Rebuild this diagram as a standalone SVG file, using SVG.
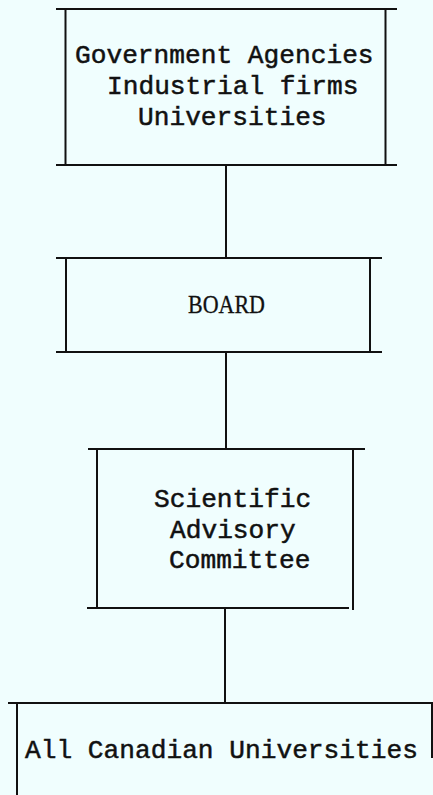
<svg xmlns="http://www.w3.org/2000/svg" width="433" height="795" viewBox="0 0 433 795">
<style>
.ln{stroke:#111;stroke-width:2;fill:none;stroke-linecap:square}
.mono{font-family:"Liberation Mono","Courier New",monospace;font-size:26.2px;fill:#111;stroke:#111;stroke-width:0.5}
.serif{font-family:"Liberation Serif","Times New Roman",serif;font-size:25px;fill:#111;stroke:#111;stroke-width:0.3}
</style>
<rect width="433" height="795" fill="#F0FEFE"/>
<g id="connectors">
<line class="ln" x1="226" y1="165" x2="226" y2="258"/>
<line class="ln" x1="226" y1="352" x2="226" y2="449"/>
<line class="ln" x1="225" y1="608" x2="225" y2="703"/>
</g>
<g id="node-sponsors">
<line class="ln" x1="57" y1="9" x2="396" y2="9"/>
<line class="ln" x1="57" y1="165" x2="396" y2="165"/>
<line class="ln" x1="65.5" y1="9" x2="65.5" y2="165"/>
<line class="ln" x1="385.5" y1="9" x2="385.5" y2="165"/>
<text class="mono" x="75" y="63">Government Agencies</text>
<text class="mono" x="107" y="94">Industrial firms</text>
<text class="mono" x="138" y="125">Universities</text>
</g>
<g id="node-board">
<line class="ln" x1="57" y1="258" x2="381" y2="258"/>
<line class="ln" x1="57" y1="352" x2="381" y2="352"/>
<line class="ln" x1="66" y1="258" x2="66" y2="352"/>
<line class="ln" x1="370" y1="258" x2="370" y2="352"/>
<text class="serif" x="188" y="313" textLength="77" lengthAdjust="spacingAndGlyphs">BOARD</text>
</g>
<g id="node-committee">
<line class="ln" x1="89" y1="449" x2="364" y2="449"/>
<line class="ln" x1="88" y1="608" x2="348" y2="608"/>
<line class="ln" x1="97" y1="449" x2="97" y2="608"/>
<line class="ln" x1="353" y1="449" x2="353" y2="609"/>
<text class="mono" x="154" y="507">Scientific</text>
<text class="mono" x="170" y="538">Advisory</text>
<text class="mono" x="169" y="568">Committee</text>
</g>
<g id="node-universities">
<line class="ln" x1="9" y1="703" x2="433" y2="703"/>
<line class="ln" x1="17" y1="703" x2="17" y2="795"/>
<line class="ln" x1="432" y1="703" x2="432" y2="757"/>
<text class="mono" x="25" y="758">All Canadian Universities</text>
</g>
</svg>
